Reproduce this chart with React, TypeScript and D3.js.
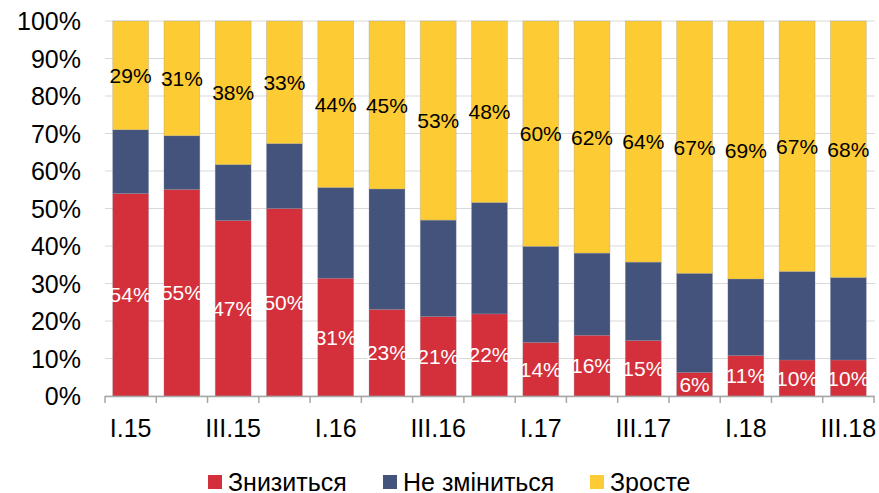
import React from "react";
import * as d3 from "d3";

const categories = ["I.15","II.15","III.15","IV.15","I.16","II.16","III.16","IV.16","I.17","II.17","III.17","IV.17","I.18","II.18","III.18"];
const tickLabels = ["I.15","III.15","I.16","III.16","I.17","III.17","I.18","III.18"];
const decrease = [54, 55.1, 46.8, 50, 31.4, 23.1, 21.2, 21.9, 14.3, 16.2, 14.8, 6.3, 10.8, 9.6, 9.6];
const increase = [29, 30.6, 38.3, 32.7, 44.4, 44.8, 53.1, 48.4, 60.1, 61.9, 64.3, 67.3, 68.8, 66.8, 68.4];
const unchanged = decrease.map((d, i) => 100 - d - increase[i]);
const seriesNames = ["Знизиться", "Не зміниться", "Зросте"];
const yTicks = [0, 10, 20, 30, 40, 50, 60, 70, 80, 90, 100];

const colors = ["#D3303B", "#43537B", "#FDCB33"];
const FONT = "'Liberation Sans', Arial, sans-serif";

export default function App() {
  const W = 879, H = 493;
  const x = d3.scaleBand<string>().domain(categories).range([105, 874]).paddingInner(0.3).paddingOuter(0.15);
  const y = d3.scaleLinear().domain([0, 100]).range([396, 21]);
  const step = x.step();
  const rows = categories.map((c, i) => ({ cat: c, v: [decrease[i], unchanged[i], increase[i]] }));
  const stack = d3.stack<any>().keys(["0", "1", "2"]).value((d: any, k: string) => d.v[+k]);
  const stacked = stack(rows);
  const fmt = (v: number) => `${Math.round(v)}%`;
  const boundaries = d3.range(categories.length + 1).map(i => 105 + i * step);
  const legendItems = [
    { name: seriesNames[0], sx: 208, tx: 228, c: colors[0] },
    { name: seriesNames[1], sx: 383, tx: 403, c: colors[1] },
    { name: seriesNames[2], sx: 590, tx: 610, c: colors[2] },
  ];
  return (
    <svg width={W} height={H} style={{ position: "absolute", left: 0, top: 0, fontFamily: FONT }}>
      {yTicks.map(t => (
        <g key={t}>
          <line x1={105} x2={875} y1={y(t)} y2={y(t)} stroke="#D9D9D9" strokeWidth={1.2} />
          <text x={81} y={y(t) + 9} textAnchor="end" fontSize={25} fill="#000">{t}%</text>
        </g>
      ))}
      {stacked.map((s, si) => (
        <g key={si}>
          {s.map((d, i) => (
            <rect key={i} x={x(categories[i])} width={x.bandwidth()} y={y(d[1])} height={y(d[0]) - y(d[1])}
              fill={colors[si]} stroke="#8a8fa0" strokeOpacity={0.35} strokeWidth={0.8} />
          ))}
        </g>
      ))}
      {stacked.map((s, si) => si === 1 ? null : (
        <g key={"l" + si}>
          {s.map((d, i) => (
            <text key={i} x={(x(categories[i]) as number) + x.bandwidth() / 2} y={(y(d[0]) + y(d[1])) / 2 + 7.5}
              textAnchor="middle" fontSize={21} fill={si === 0 ? "#fff" : "#000"}>{fmt(d[1] - d[0])}</text>
          ))}
        </g>
      ))}
      <line x1={105} x2={874} y1={396.5} y2={396.5} stroke="#A6A6A6" strokeWidth={1.5} />
      {boundaries.map((b, i) => (
        <line key={i} x1={b} x2={b} y1={396} y2={403} stroke="#A6A6A6" strokeWidth={1.5} />
      ))}
      {categories.map((c, i) => tickLabels.includes(c) ? (
        <text key={c} x={(x(c) as number) + x.bandwidth() / 2} y={437} textAnchor="middle" fontSize={25} fill="#000">{c}</text>
      ) : null)}
      {legendItems.map(l => (
        <g key={l.name}>
          <rect x={l.sx} y={475} width={14} height={14} fill={l.c} />
          <text x={l.tx} y={491} fontSize={25} fill="#000">{l.name}</text>
        </g>
      ))}
    </svg>
  );
}
